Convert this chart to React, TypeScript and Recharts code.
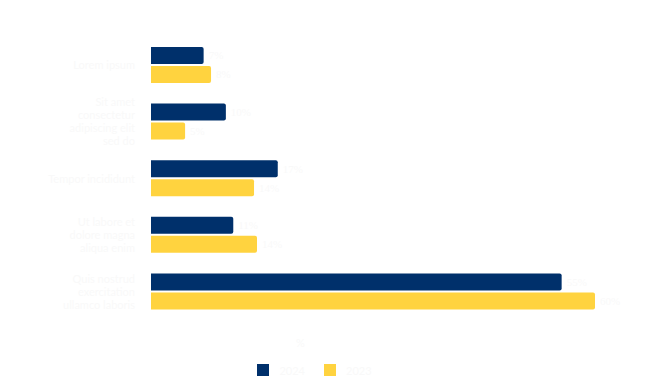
import React from 'react';
import { BarChart, Bar, XAxis, YAxis, Legend, LabelList } from 'recharts';

const categories = [
  'Lorem ipsum',
  'Sit amet consectetur adipiscing elit sed do',
  'Tempor incididunt',
  'Ut labore et dolore magna aliqua enim',
  'Quis nostrud exercitation ullamco laboris',
];
const current = [7.1, 10.1, 17.1, 11.1, 55.4];
const previous = [8.1, 4.6, 13.9, 14.3, 59.9];
const seriesNames = ['2024', '2023'];

const NAVY = '#00306b';
const YELLOW = '#ffd33f';
const FAINT = '#f9f9f9';

const data = categories.map((name, i) => ({ name, a: current[i], b: previous[i] }));

const wrapWords = (text: string, max: number) => {
  const lines: string[] = [];
  let line = '';
  text.split(' ').forEach((w) => {
    if ((line + ' ' + w).trim().length > max) {
      lines.push(line);
      line = w;
    } else line = (line + ' ' + w).trim();
  });
  if (line) lines.push(line);
  return lines;
};

const CategoryTick = ({ x, y, payload }: any) => {
  const lines = wrapWords(payload.value, 18);
  const start = -((lines.length - 1) * 13) / 2;
  return (
    <text x={x - 8} y={y} textAnchor="end" fill={FAINT} fontSize={11} fontFamily="Lato">
      {lines.map((l, i) => (
        <tspan key={i} x={x - 8} dy={i === 0 ? start + 4 : 13}>
          {l}
        </tspan>
      ))}
    </text>
  );
};

const LegendContent = () => (
  <div style={{ fontFamily: 'Lato', fontSize: 11, color: FAINT, textAlign: 'center', paddingTop: 16 }}>
    <div style={{ height: 16, paddingLeft: 6 }}>%</div>
    <div style={{ display: 'flex', justifyContent: 'center', gap: 19, marginTop: 11, paddingLeft: 34, height: 14 }}>
      {[NAVY, YELLOW].map((c, i) => (
        <span key={i} style={{ display: 'flex', alignItems: 'center' }}>
          <span style={{ width: 12, height: 12, background: c, display: 'inline-block', marginRight: 10 }} />
          {seriesNames[i]}
        </span>
      ))}
    </div>
  </div>
);

export default function App() {
  return (
    <div style={{ position: 'fixed', left: 0, top: 0, width: 653, height: 384, background: '#fff' }}>
      <BarChart
        width={653}
        height={384}
        data={data}
        layout="vertical"
        barGap={2}
        barCategoryGap={11}
        margin={{ top: 37, right: 58, left: 0, bottom: 7 }}
      >
        <XAxis type="number" hide domain={[0, 'dataMax']} />
        <YAxis
          type="category"
          dataKey="name"
          width={151}
          axisLine={false}
          tickLine={false}
          tick={<CategoryTick />}
        />
        <Legend verticalAlign="bottom" content={<LegendContent />} />
        <Bar dataKey="a" name={seriesNames[0]} fill={NAVY} barSize={17} radius={[0, 2, 2, 0]} isAnimationActive={false}>
          <LabelList dataKey="a" position="right" fill={FAINT} fontSize={11} formatter={(v: number) => `${Math.round(v)}%`} />
        </Bar>
        <Bar dataKey="b" name={seriesNames[1]} fill={YELLOW} barSize={17} radius={[0, 2, 2, 0]} isAnimationActive={false}>
          <LabelList dataKey="b" position="right" fill={FAINT} fontSize={11} formatter={(v: number) => `${Math.round(v)}%`} />
        </Bar>
      </BarChart>
    </div>
  );
}
